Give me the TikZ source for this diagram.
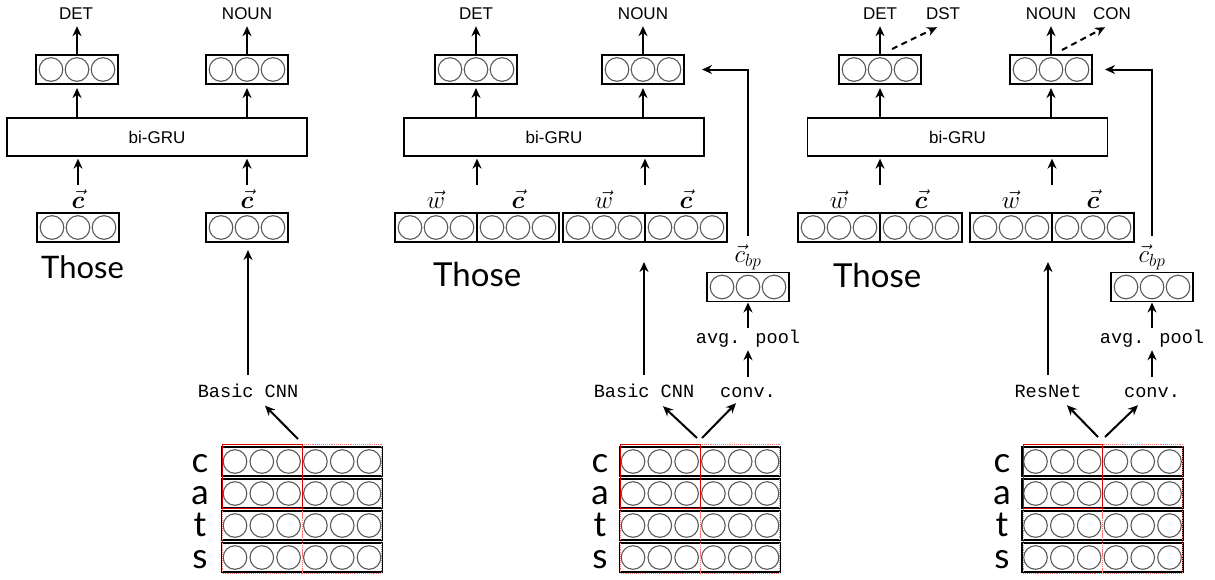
\documentclass[tikz,border=0pt]{standalone}
\usepackage{fix-cm}
\usepackage{bm}
\usepackage{fontspec}
\usetikzlibrary{arrows.meta}
\newfontfamily\sansf{Liberation Sans}
\newfontfamily\gillf{Lato}
\newfontfamily\monof{Liberation Mono}
\begin{document}
\begin{tikzpicture}[x=1pt,y=-1pt,
  box/.style={draw, line width=1.3pt, minimum width=82pt, minimum height=29pt, inner sep=0pt, outer sep=0pt},
  row/.style={box, minimum width=161pt},
  gru/.style={draw, line width=1.3pt, minimum width=300pt, minimum height=38pt, inner sep=0pt, font=\sansf\fontsize{17}{17}\selectfont},
  tag/.style={inner sep=0pt, text height=12pt, text depth=0pt, font=\sansf\fontsize{17}{17}\selectfont},
  code/.style={inner sep=0pt, text height=11pt, text depth=4pt, font=\monof\fontsize{18.6}{19}\selectfont},
  word/.style={inner sep=0pt, anchor=base west, font=\gillf\fontsize{33}{33}\selectfont},
  letter/.style={inner sep=0pt, anchor=base, font=\gillf\fontsize{35}{35}\selectfont},
  vlab/.style={inner sep=0pt, font=\fontsize{25}{25}\selectfont},
  arr/.style={-{Stealth[length=10pt,width=9pt]}, line width=2pt},
  darr/.style={arr, dash pattern=on 6pt off 4.5pt},
  circ/.style={draw=black!65, line width=1.1pt},
  redbox/.style={draw=red!85!black, line width=1pt},
  reddot/.style={draw=red!55, line width=0.9pt, densely dotted}]
\useasboundingbox (0,0) rectangle (1215,579);

% ---------------- panel 1 ----------------
\node[tag] (det1) at (76,13) {DET};
\node[tag] (noun1) at (247,13) {NOUN};
\node[box] (t1a) at (77,69.5) {};
\node[box] (t1b) at (247,69.5) {};
\node[gru] (g1) at (157,137) {bi-GRU};
\node[vlab] (cl1a) at (78,199) {$\vec{\bm c}$};
\node[vlab] (cl1b) at (247,199) {$\vec{\bm c}$};
\node[box] (c1a) at (78,227.5) {};
\node[box] (c1b) at (247,227.5) {};
\node[word, font=\gillf\fontsize{31}{31}\selectfont] (those1) at (41,278) {Those};
\node[code] (cnn1) at (248,393.5) {Basic CNN};
\node[row] (r1a) at (302,461.5) {};
\node[row] (r1b) at (302,493.5) {};
\node[row] (r1c) at (302,525.5) {};
\node[row] (r1d) at (302,557.5) {};
\node[letter] (l1a) at (200,472) {c};
\node[letter] (l1b) at (200,504) {a};
\node[letter] (l1c) at (200,536) {t};
\node[letter] (l1d) at (200,568) {s};

% ---------------- panel 2 ----------------
\node[tag] (det2) at (476,13) {DET};
\node[tag] (noun2) at (643,13) {NOUN};
\node[box] (t2a) at (476,69.5) {};
\node[box] (t2b) at (643,69.5) {};
\node[gru] (g2) at (554,137) {bi-GRU};
\node[vlab] (wl2a) at (436,200) {$\vec{w}$};
\node[vlab] (cl2a) at (518,199) {$\vec{\bm c}$};
\node[vlab] (wl2b) at (604,200) {$\vec{w}$};
\node[vlab] (cl2b) at (686,199) {$\vec{\bm c}$};
\node[box] (w2a) at (436,227.5) {};
\node[box] (c2a) at (518,227.5) {};
\node[box] (w2b) at (604,227.5) {};
\node[box] (c2b) at (686,227.5) {};
\node[word] (those2) at (433,286) {Those};
\node[vlab] (cbpl2) at (748,257) {$\vec{c}_{bp}$};
\node[box] (cbp2) at (748,287) {};
\node[code] (pool2) at (748,339.5) {avg. pool};
\node[code] (cnn2) at (644,393.5) {Basic CNN};
\node[code] (conv2) at (748,393.5) {conv.};
\node[row] (r2a) at (700,461.5) {};
\node[row] (r2b) at (700,493.5) {};
\node[row] (r2c) at (700,525.5) {};
\node[row] (r2d) at (700,557.5) {};
\node[letter] (l2a) at (600,472) {c};
\node[letter] (l2b) at (600,504) {a};
\node[letter] (l2c) at (600,536) {t};
\node[letter] (l2d) at (600,568) {s};

% ---------------- panel 3 ----------------
\node[tag] (det3) at (880,13) {DET};
\node[tag] (dst3) at (943,13) {DST};
\node[tag] (noun3) at (1051,13) {NOUN};
\node[tag] (con3) at (1112,13) {CON};
\node[box] (t3a) at (880,69.5) {};
\node[box] (t3b) at (1051,69.5) {};
\node[gru] (g3) at (957.5,137) {bi-GRU};
\node[vlab] (wl3a) at (839,200) {$\vec{w}$};
\node[vlab] (cl3a) at (921,199) {$\vec{\bm c}$};
\node[vlab] (wl3b) at (1011,200) {$\vec{w}$};
\node[vlab] (cl3b) at (1093,199) {$\vec{\bm c}$};
\node[box] (w3a) at (839,227.5) {};
\node[box] (c3a) at (921,227.5) {};
\node[box] (w3b) at (1011,227.5) {};
\node[box] (c3b) at (1093,227.5) {};
\node[word] (those3) at (833,287) {Those};
\node[vlab] (cbpl3) at (1152,257) {$\vec{c}_{bp}$};
\node[box] (cbp3) at (1152,287) {};
\node[code] (pool3) at (1152,339.5) {avg. pool};
\node[code] (res3) at (1048,393.5) {ResNet};
\node[code] (conv3) at (1152,393.5) {conv.};
\node[row] (r3a) at (1102.5,461.5) {};
\node[row] (r3b) at (1102.5,493.5) {};
\node[row] (r3c) at (1102.5,525.5) {};
\node[row] (r3d) at (1102.5,557.5) {};
\node[letter] (l3a) at (1002,472) {c};
\node[letter] (l3b) at (1002,504) {a};
\node[letter] (l3c) at (1002,536) {t};
\node[letter] (l3d) at (1002,568) {s};

% ---------------- circles ----------------
\foreach \n in {t1a,t1b,c1a,c1b,t2a,t2b,w2a,c2a,w2b,c2b,cbp2,t3a,t3b,w3a,c3a,w3b,c3b,cbp3}
  \foreach \i in {-1,0,1}
    \draw[circ] ([xshift=\i*26pt]\n.center) circle[radius=11.8pt];
\foreach \n in {r1a,r1b,r1c,r1d,r2a,r2b,r2c,r2d,r3a,r3b,r3c,r3d}
  \foreach \i in {-2.5,-1.5,-0.5,0.5,1.5,2.5}
    \draw[circ] ([xshift=\i*26.8pt]\n.center) circle[radius=11.8pt];

% ---------------- red windows ----------------
\foreach \p in {1,2,3}{
  \draw[reddot] ([xshift=1pt,yshift=3pt]r\p a.north west) rectangle ([yshift=-1pt]r\p d.south);
  \draw[reddot] ([yshift=3pt]r\p a.north) rectangle ([xshift=-1pt,yshift=-1pt]r\p d.south east);
  \draw[redbox] ([xshift=1pt,yshift=3pt]r\p a.north west) rectangle (r\p b.south);
}

% ---------------- arrows panel 1 ----------------
\draw[arr, shorten >=7pt] (t1a.north) -- (det1.south -| t1a.north);
\draw[arr, shorten >=7pt] (t1b.north) -- (noun1.south -| t1b.north);
\draw[arr, shorten >=4pt] (t1a.south |- g1.north) -- (t1a.south);
\draw[arr, shorten >=4pt] (t1b.south |- g1.north) -- (t1b.south);
\draw[arr, shorten >=2pt] ([yshift=28pt]c1a.north) -- (c1a.north |- g1.south);
\draw[arr, shorten >=2pt] ([yshift=28pt]c1b.north) -- (c1b.north |- g1.south);
\draw[arr, shorten <=11pt, shorten >=8pt] (cnn1.north) -- (cnn1.north |- c1b.south);
\draw[arr] ([xshift=-4pt,yshift=8pt]r1a.north) -- ([xshift=17pt,yshift=-4.5pt]cnn1.south);

% ---------------- arrows panel 2 ----------------
\draw[arr, shorten >=7pt] (t2a.north) -- (det2.south -| t2a.north);
\draw[arr, shorten >=7pt] (t2b.north) -- (noun2.south -| t2b.north);
\draw[arr, shorten >=4pt] (t2a.south |- g2.north) -- (t2a.south);
\draw[arr, shorten >=4pt] (t2b.south |- g2.north) -- (t2b.south);
\draw[arr, shorten >=2pt] ([yshift=28pt]w2a.north east) -- (w2a.north east |- g2.south);
\draw[arr, shorten >=2pt] ([yshift=28pt]w2b.north east) -- (w2b.north east |- g2.south);
\draw[arr, shorten <=11pt, shorten >=20pt] (cnn2.north) -- (cnn2.north |- w2b.south);
\draw[arr, shorten <=9pt, shorten >=3pt] (conv2.north) -- (pool2.south);
\draw[arr, shorten <=4pt, shorten >=1pt] (pool2.north) -- (cbp2.south);
\draw[arr, shorten >=18pt] ([yshift=37pt]cbp2.north) |- (t2b.east);
\draw[arr] ([xshift=-3pt,yshift=9pt]r2a.north) -- ([xshift=19pt,yshift=-5pt]cnn2.south);
\draw[arr] ([xshift=2pt,yshift=9pt]r2a.north) -- ([xshift=-12pt,yshift=-2pt]conv2.south);

% ---------------- arrows panel 3 ----------------
\draw[arr, shorten >=7pt] (t3a.north) -- (det3.south -| t3a.north);
\draw[arr, shorten >=7pt] (t3b.north) -- (noun3.south -| t3b.north);
\draw[darr] ([xshift=12pt,yshift=6pt]t3a.north) -- ([xshift=-6pt,yshift=-8pt]dst3.south);
\draw[darr] ([xshift=11pt,yshift=5pt]t3b.north) -- ([xshift=-7pt,yshift=-8pt]con3.south);
\draw[arr, shorten >=4pt] (t3a.south |- g3.north) -- (t3a.south);
\draw[arr, shorten >=4pt] (t3b.south |- g3.north) -- (t3b.south);
\draw[arr, shorten >=2pt] ([yshift=28pt]w3a.north east) -- (w3a.north east |- g3.south);
\draw[arr, shorten >=2pt] ([yshift=28pt]w3b.north east) -- (w3b.north east |- g3.south);
\draw[arr, shorten <=11pt, shorten >=20pt] (res3.north) -- (res3.north |- w3b.south);
\draw[arr, shorten <=9pt, shorten >=3pt] (conv3.north) -- (pool3.south);
\draw[arr, shorten <=4pt, shorten >=1pt] (pool3.north) -- (cbp3.south);
\draw[arr, shorten >=13pt] ([yshift=37pt]cbp3.north) |- (t3b.east);
\draw[arr] ([xshift=-4.5pt,yshift=10pt]r3a.north) -- ([xshift=19pt,yshift=-4pt]res3.south);
\draw[arr] ([xshift=2.5pt,yshift=10pt]r3a.north) -- ([xshift=-14pt,yshift=-4pt]conv3.south);
\end{tikzpicture}
\end{document}
